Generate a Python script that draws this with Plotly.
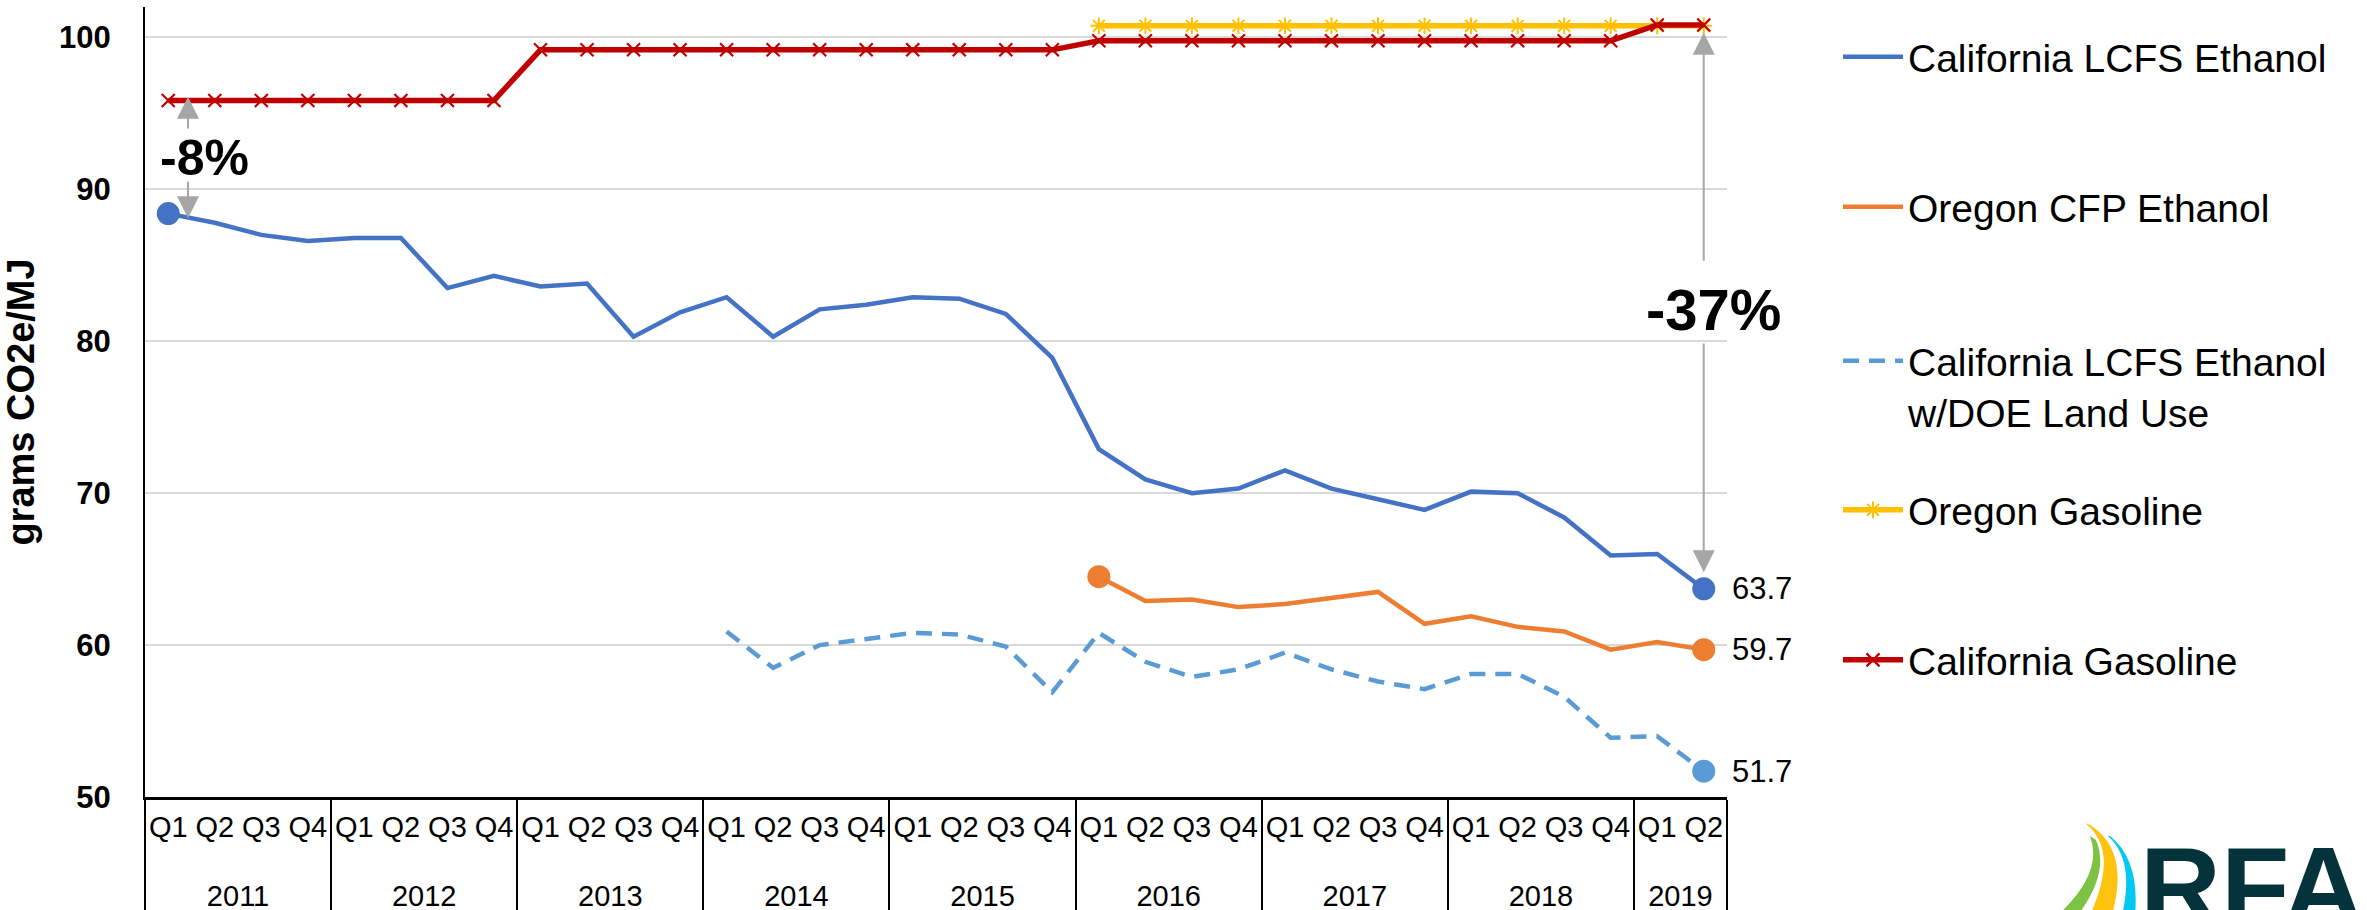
import plotly.graph_objects as go

# ---------------- data ----------------
years = ["2011"] * 4 + ["2012"] * 4 + ["2013"] * 4 + ["2014"] * 4 + ["2015"] * 4 + \
        ["2016"] * 4 + ["2017"] * 4 + ["2018"] * 4 + ["2019"] * 2
quarters = ["Q1", "Q2", "Q3", "Q4"] * 8 + ["Q1", "Q2"]

ca_lcfs_ethanol = [88.4, 87.8, 87.0, 86.6, 86.8, 86.8, 83.5, 84.3,
                   83.6, 83.8, 80.3, 81.9, 82.9, 80.3, 82.1, 82.4,
                   82.9, 82.8, 81.8, 78.9, 72.9, 70.9, 70.0, 70.3,
                   71.5, 70.3, 69.6, 68.9, 70.1, 70.0, 68.4, 65.9,
                   66.0, 63.7]
or_cfp_ethanol = [None] * 20 + [64.5, 62.9, 63.0, 62.5, 62.7, 63.1, 63.5, 61.4,
                                61.9, 61.2, 60.9, 59.7, 60.2, 59.7]
ca_lcfs_doe = [None] * 12 + [60.9, 58.5, 60.0, 60.4, 60.8, 60.7, 59.9, 56.9,
                             60.8, 58.9, 57.9, 58.4, 59.5, 58.4, 57.6, 57.1,
                             58.1, 58.1, 56.6, 53.9, 54.0, 51.7]
or_gasoline = [None] * 20 + [100.76] * 14
ca_gasoline = [95.85] * 8 + [99.18] * 12 + [99.78] * 12 + [100.82] * 2

series_names = ["California LCFS Ethanol", "Oregon CFP Ethanol",
                "California LCFS Ethanol<br>w/DOE Land Use",
                "Oregon Gasoline", "California Gasoline"]
pct_labels = ["-8%", "-37%"]

# ---------------- geometry helpers ----------------
W_FIG, H_FIG = 2367, 910
L, R, T, B = 145, 1727, 7, 797
PW, PH = R - L, B - T
N = len(quarters)


def px2x(px):
    return (px - L) / PW


def py2y(py):
    return (B - py) / PH


def cat2x(i):
    return (i + 0.5) / N


FONT = "Arial, 'Liberation Sans', sans-serif"
BLUE, ORANGE, LBLUE, YELLOW, RED = "#4472C4", "#ED7D31", "#5B9BD5", "#FFC000", "#C00000"
GRAY = "#A6A6A6"

# year labels get an empty first line so they sit lower, as in the reference
year_labels = ["<br>" + y for y in years]
xcat = [year_labels, quarters]

fig = go.Figure()

fig.add_trace(go.Scatter(x=xcat, y=ca_lcfs_ethanol, mode="lines", name=series_names[0],
                         line=dict(color=BLUE, width=4.5), legend="legend"))
fig.add_trace(go.Scatter(x=xcat, y=or_cfp_ethanol, mode="lines", name=series_names[1],
                         line=dict(color=ORANGE, width=4.5), legend="legend2"))
fig.add_trace(go.Scatter(x=xcat, y=ca_lcfs_doe, mode="lines", name=series_names[2],
                         line=dict(color=LBLUE, width=4.5, dash="16px,10px"), legend="legend3"))
fig.add_trace(go.Scatter(x=xcat, y=or_gasoline, mode="lines+markers", name=series_names[3],
                         line=dict(color=YELLOW, width=5.5),
                         marker=dict(symbol="asterisk-open", size=14, color=YELLOW,
                                     line=dict(color=YELLOW, width=2)),
                         legend="legend4"))
fig.add_trace(go.Scatter(x=xcat, y=ca_gasoline, mode="lines+markers", name=series_names[4],
                         line=dict(color=RED, width=5.5),
                         marker=dict(symbol="x-thin-open", size=13, color=RED,
                                     line=dict(color=RED, width=2.2)),
                         legend="legend5"))


def valid_idx(vals):
    return [i for i, v in enumerate(vals) if v is not None]


def end_markers(vals, color, first=True):
    idx = valid_idx(vals)
    pick = [idx[0], idx[-1]] if first else [idx[-1]]
    fig.add_trace(go.Scatter(x=[[year_labels[i] for i in pick], [quarters[i] for i in pick]],
                             y=[vals[i] for i in pick], mode="markers", showlegend=False,
                             marker=dict(color=color, size=23), hoverinfo="skip"))


end_markers(ca_lcfs_ethanol, BLUE)
end_markers(or_cfp_ethanol, ORANGE)
end_markers(ca_lcfs_doe, LBLUE, first=False)

# end value labels
annotations = []
for vals in (ca_lcfs_ethanol, or_cfp_ethanol, ca_lcfs_doe):
    i = valid_idx(vals)[-1]
    annotations.append(dict(x=cat2x(i), xref="paper", y=vals[i], yref="y",
                            text=f"{vals[i]:.1f}", showarrow=False, xanchor="left",
                            yanchor="middle", xshift=26,
                            font=dict(family=FONT, size=31, color="black")))

# percent-change arrows & labels
x8 = px2x(188)
annotations += [
    dict(x=x8, xref="paper", y=96.1, yref="y", ax=0, axref="pixel", ay=93.9, ayref="y",
         showarrow=True, arrowhead=2, arrowsize=2.2, arrowwidth=2, arrowcolor=GRAY, text=""),
    dict(x=x8, xref="paper", y=88.1, yref="y", ax=0, axref="pixel", ay=90.6, ayref="y",
         showarrow=True, arrowhead=2, arrowsize=2.2, arrowwidth=2, arrowcolor=GRAY, text=""),
    dict(x=px2x(204.5), xref="paper", y=92.07, yref="y", text=pct_labels[0], showarrow=False,
         xanchor="center", yanchor="middle",
         font=dict(family=FONT, size=50, color="black", weight="bold")),
]
xl = cat2x(N - 1)
annotations += [
    dict(x=xl, xref="paper", y=100.3, yref="y", ax=0, axref="pixel", ay=85.2, ayref="y",
         showarrow=True, arrowhead=2, arrowsize=2.2, arrowwidth=2, arrowcolor=GRAY, text=""),
    dict(x=xl, xref="paper", y=64.8, yref="y", ax=0, axref="pixel", ay=79.95, ayref="y",
         showarrow=True, arrowhead=2, arrowsize=2.2, arrowwidth=2, arrowcolor=GRAY, text=""),
    dict(x=px2x(1713), xref="paper", y=82.06, yref="y", text=pct_labels[1], showarrow=False,
         xanchor="center", yanchor="middle",
         font=dict(family=FONT, size=58, color="black", weight="bold")),
]

# RFA logo (decoration)
annotations.append(dict(x=px2x(2138), xref="paper", y=py2y(822), yref="paper",
                        xanchor="left", yanchor="top", showarrow=False, text="RFA",
                        font=dict(family=FONT, size=112, color="#05333B", weight="bold")))


def P(px, py):
    return f"{px2x(px):.5f},{py2y(py):.5f}"


shapes = [
    dict(type="path", xref="paper", yref="paper", line=dict(width=0), fillcolor="#7DC242",
         path=f"M{P(2090,836)} Q{P(2104,872)} {P(2058,915)} L{P(2078,915)} Q{P(2110,872)} {P(2096,840)} Z"),
    dict(type="path", xref="paper", yref="paper", line=dict(width=0), fillcolor="#FFC20E",
         path=f"M{P(2085,823)} Q{P(2120,850)} {P(2090,915)} L{P(2112,915)} Q{P(2130,850)} {P(2090,825)} Z"),
    dict(type="path", xref="paper", yref="paper", line=dict(width=0), fillcolor="#00C8F0",
         path=f"M{P(2108,836)} Q{P(2135,860)} {P(2122,915)} L{P(2135,915)} Q{P(2140,860)} {P(2110,836)} Z"),
]

legend_common = dict(font=dict(family=FONT, size=39, color="black"), bgcolor="rgba(0,0,0,0)",
                     xanchor="left", itemwidth=60, x=px2x(1838))
sym_y = [57, 207, 359, 510, 660]

fig.update_layout(
    width=W_FIG, height=H_FIG,
    margin=dict(l=L, r=W_FIG - R, t=T, b=H_FIG - B, autoexpand=False),
    paper_bgcolor="white", plot_bgcolor="white",
    font=dict(family=FONT, color="black"),
    showlegend=True,
    legend=dict(**legend_common, y=py2y(sym_y[0]), yanchor="middle"),
    legend2=dict(**legend_common, y=py2y(sym_y[1]), yanchor="middle"),
    legend3=dict(**legend_common, y=py2y(sym_y[2] - 30), yanchor="top", valign="top"),
    legend4=dict(**legend_common, y=py2y(sym_y[3]), yanchor="middle"),
    legend5=dict(**legend_common, y=py2y(sym_y[4]), yanchor="middle"),
    annotations=annotations,
    shapes=shapes,
)

fig.update_yaxes(range=[50, 102], tickvals=[50, 60, 70, 80, 90, 100], showgrid=True,
                 gridcolor="#D9D9D9", gridwidth=2, zeroline=False, showline=True,
                 linecolor="black", linewidth=2, ticks="", ticklabelstandoff=26,
                 tickfont=dict(family=FONT, size=31, color="black", weight="bold"),
                 title=dict(text="grams CO2e/MJ", standoff=16,
                            font=dict(family=FONT, size=38, color="black", weight="bold")))
fig.update_xaxes(type="multicategory", range=[-0.5, N - 0.5], autorange=False,
                 showgrid=False, showline=True, linecolor="black", tickangle=0,
                 linewidth=2.5, ticks="", showdividers=True, dividercolor="black",
                 dividerwidth=2, ticklabelstandoff=2,
                 tickfont=dict(family=FONT, size=29, color="black"))

fig.write_html("out.html", config={"displayModeBar": False},
               post_script="document.body.style.margin='0';document.body.style.overflow='hidden';")
